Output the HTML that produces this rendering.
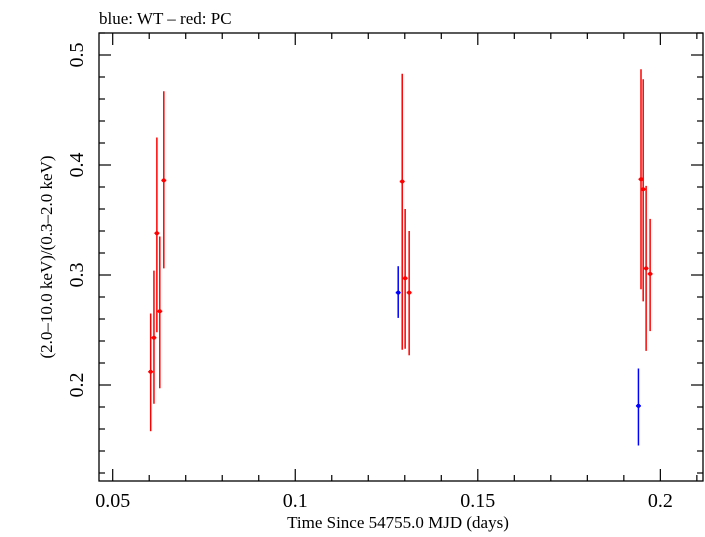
<!DOCTYPE html>
<html><head><meta charset="utf-8"><style>
body{margin:0;background:#fff}
svg text{font-family:"Liberation Serif",serif;fill:#000}
</style></head><body>
<svg width="705" height="532" xmlns="http://www.w3.org/2000/svg">
<text x="99" y="24" font-size="17">blue: WT – red: PC</text>
<g id="ticks"></g>
<rect x="99" y="33" width="604" height="448" fill="none" stroke="#000" stroke-width="1.3"/>
<g id="marks"></g>
<text x="398" y="528" font-size="17" text-anchor="middle">Time Since 54755.0 MJD (days)</text>
<text transform="translate(52,257) rotate(-90)" font-size="17" text-anchor="middle">(2.0–10.0 keV)/(0.3–2.0 keV)</text>
</svg>
<script>
const redX=[0.0604,0.0613,0.0621,0.0629,0.0640,0.1293,0.1301,0.1312,0.1947,0.1953,0.1961,0.1972];
const redY=[0.212,0.243,0.338,0.267,0.386,0.385,0.297,0.284,0.387,0.378,0.306,0.301];
const redLo=[0.158,0.183,0.248,0.197,0.306,0.232,0.233,0.227,0.287,0.276,0.231,0.249];
const redHi=[0.265,0.304,0.425,0.335,0.467,0.483,0.360,0.340,0.487,0.478,0.381,0.351];
const blueX=[0.1282,0.1940];
const blueY=[0.284,0.181];
const blueLo=[0.261,0.145];
const blueHi=[0.308,0.215];
const xTicks=[0.05,0.1,0.15,0.2];
const xTickLabels=["0.05","0.1","0.15","0.2"];
const yTicks=[0.2,0.3,0.4,0.5];
const yTickLabels=["0.2","0.3","0.4","0.5"];
const L=99,R=703,T=33,B=481;
const sx=v=>112.7+(v-0.05)*3651;
const sy=v=>385-(v-0.2)*1100;
const NS="http://www.w3.org/2000/svg";
function mk(tag,attrs,parent){const e=document.createElementNS(NS,tag);for(const k in attrs)e.setAttribute(k,attrs[k]);parent.appendChild(e);return e;}
const tg=document.getElementById('ticks');
for(let i=4;i<=21;i++){const v=i/100;const x=sx(v);if(x<L||x>R)continue;const big=(i%5===0);const len=big?12:6;
 let t=mk('line',{x1:x,x2:x,y1:B,y2:B-len,stroke:'#000','stroke-width':1.2},tg);
 
 t=mk('line',{x1:x,x2:x,y1:T,y2:T+len,stroke:'#000','stroke-width':1.2},tg);
 }
for(let i=6;i<=26;i++){const v=i/50;const y=sy(v);if(y<T||y>B)continue;const big=(i%5===0);const len=big?12:6;
 let t=mk('line',{x1:L,x2:L+len,y1:y,y2:y,stroke:'#000','stroke-width':1.2},tg);
 
 t=mk('line',{x1:R,x2:R-len,y1:y,y2:y,stroke:'#000','stroke-width':1.2},tg);
 }
xTicks.forEach((v,i)=>{const t=mk('text',{x:sx(v),y:507,'font-size':20,'text-anchor':'middle'},tg);t.textContent=xTickLabels[i];
 });
yTicks.forEach((v,i)=>{const y=sy(v);const t=mk('text',{transform:`translate(83,${y}) rotate(-90)`,'font-size':20,'text-anchor':'middle'},tg);t.textContent=yTickLabels[i];
 });
const mg=document.getElementById('marks');
function pts(X,Y,Lo,Hi,col,name){X.forEach((xv,i)=>{const x=sx(xv),y=sy(Y[i]);
 const g=mk('g',{},mg);
 mk('line',{x1:x,x2:x,y1:sy(Lo[i]),y2:sy(Hi[i]),stroke:col,'stroke-width':1.5},g);
 mk('line',{x1:x-2.5,x2:x+2.5,y1:y,y2:y,stroke:col,'stroke-width':1.5},g);
 mk('circle',{cx:x,cy:y,r:2,fill:col},g);});}
pts(redX,redY,redLo,redHi,'#ff0000','red-pc-point');
pts(blueX,blueY,blueLo,blueHi,'#0000ff','blue-wt-point');
</script>
</body></html>
